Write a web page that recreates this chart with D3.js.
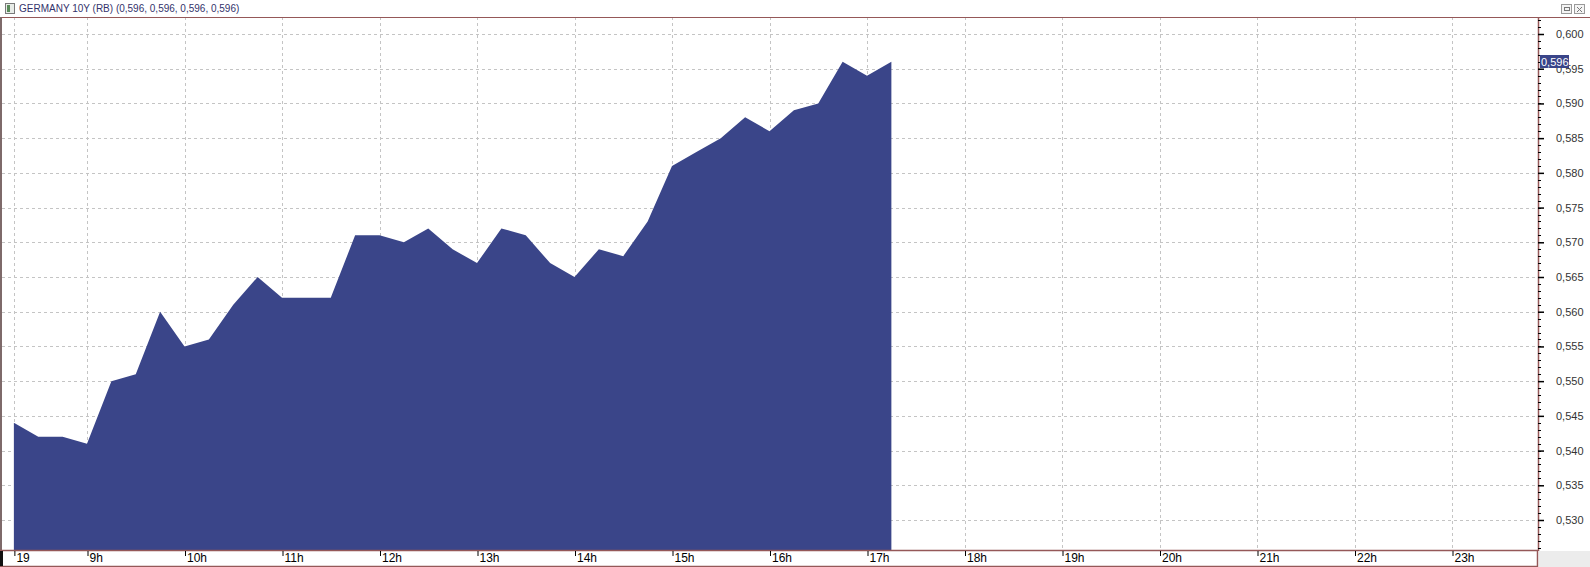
<!DOCTYPE html>
<html>
<head>
<meta charset="utf-8">
<script src="https://cdn.jsdelivr.net/npm/d3@7"></script>
<style>
  body { margin: 0; background: #fff; overflow: hidden; }
  svg { display: block; font-family: "Liberation Sans", Arial, sans-serif; }
</style>
</head>
<body>
<div id="chart"></div>
<script>
// quarter-hour closes, 19th
var times = ["08:15", "08:30", "08:45", "09:00", "09:15", "09:30", "09:45", "10:00", "10:15",
    "10:30", "10:45", "11:00", "11:15", "11:30", "11:45", "12:00", "12:15", "12:30", "12:45",
    "13:00", "13:15", "13:30", "13:45", "14:00", "14:15", "14:30", "14:45", "15:00", "15:15",
    "15:30", "15:45", "16:00", "16:15", "16:30", "16:45", "17:00", "17:15"];
var yields = [0.544, 0.542, 0.542, 0.541, 0.550, 0.551, 0.560, 0.555, 0.556,
    0.561, 0.565, 0.562, 0.562, 0.562, 0.571, 0.571, 0.570, 0.572, 0.569,
    0.567, 0.572, 0.571, 0.567, 0.565, 0.569, 0.568, 0.573, 0.581, 0.583,
    0.585, 0.588, 0.586, 0.589, 0.590, 0.596, 0.594, 0.596];
var hourTicks = [9, 10, 11, 12, 13, 14, 15, 16, 17, 18, 19, 20, 21, 22, 23];
var dateTick = "08:15";
var dateLabel = "19";
var yTicks = [0.530, 0.535, 0.540, 0.545, 0.550, 0.555, 0.560, 0.565, 0.570, 0.575, 0.580, 0.585, 0.590, 0.595, 0.600];
var lastValue = 0.596;
var title = "GERMANY 10Y (RB) (0,596, 0,596, 0,596, 0,596)";

(function () {
    var W = 1590, H = 567;
    var plot = { left: 2, right: 1538, top: 17, bottom: 550 };
    var axisBottom = 566;
    var navy = "#3a4589", frame = "#955858", grid = "#c4c4c4";

    function hours(t) {
        var p = t.split(":");
        return +p[0] + p[1] / 60;
    }
    function comma(v) { return d3.format(".3f")(v).replace(".", ","); }

    var x = d3.scaleLinear().domain([9, 23]).range([87, 1452]);
    var y = d3.scaleLinear().domain([0.530, 0.600]).range([520, 34]);

    var svg = d3.select("#chart").append("svg")
        .attr("width", W)
        .attr("height", H);

    // title bar
    svg.append("rect").attr("width", W).attr("height", plot.top).attr("fill", "#fff");
    svg.append("rect").attr("x", 5.5).attr("y", 3.5).attr("width", 9).attr("height", 10)
        .attr("fill", "#e8ece8").attr("stroke", "#7a7a7a");
    svg.append("rect").attr("x", 7).attr("y", 5).attr("width", 3).attr("height", 7).attr("fill", "#5a8a5a");
    svg.append("text").attr("x", 19).attr("y", 12)
        .attr("font-size", 10).attr("fill", "#33336b").text(title);
    [1561, 1574].forEach(function (bx, i) {
        svg.append("rect").attr("x", bx + 0.5).attr("y", 4.5).attr("width", 10).attr("height", 9)
            .attr("fill", "#f4f4f4").attr("stroke", "#9a9a9a");
        if (i === 0) {
            svg.append("rect").attr("x", bx + 3.5).attr("y", 7.5).attr("width", 5).attr("height", 3)
                .attr("fill", "none").attr("stroke", "#777");
        } else {
            svg.append("path").attr("d", "M" + (bx + 3) + ",7L" + (bx + 8) + ",12M" + (bx + 8) + ",7L" + (bx + 3) + ",12")
                .attr("stroke", "#777");
        }
    });

    // grid
    svg.append("g").selectAll("line").data(yTicks).enter().append("line")
        .attr("x1", plot.left).attr("x2", plot.right)
        .attr("y1", function (d) { return Math.round(y(d)) + 0.5; })
        .attr("y2", function (d) { return Math.round(y(d)) + 0.5; })
        .attr("stroke", grid).attr("stroke-dasharray", "3,3");
    var vlines = [hours(dateTick)].concat(hourTicks);
    svg.append("g").selectAll("line").data(vlines).enter().append("line")
        .attr("x1", function (d) { return Math.round(x(d)) + 0.5; })
        .attr("x2", function (d) { return Math.round(x(d)) + 0.5; })
        .attr("y1", plot.top).attr("y2", plot.bottom)
        .attr("stroke", grid).attr("stroke-dasharray", "3,3");

    // area
    var area = d3.area()
        .x(function (d, i) { return x(hours(times[i])); })
        .y0(plot.bottom)
        .y1(function (d) { return y(d); });
    svg.append("path").datum(yields).attr("d", area).attr("fill", navy);

    // frame
    svg.append("line").attr("x1", 0).attr("x2", W).attr("y1", plot.top + 0.5).attr("y2", plot.top + 0.5)
        .attr("stroke", frame);
    svg.append("rect").attr("x", 0).attr("y", plot.top).attr("width", 2).attr("height", plot.bottom - plot.top)
        .attr("fill", "#7e6a6a");
    svg.append("line").attr("x1", plot.right + 0.5).attr("x2", plot.right + 0.5)
        .attr("y1", plot.top).attr("y2", plot.bottom + 1).attr("stroke", frame).attr("stroke-width", 1.5);

    // right axis
    var minor = d3.range(526, 603).map(function (d) { return d / 1000; });
    var yAxis = d3.axisRight(y)
        .tickValues(yTicks)
        .tickSize(6)
        .tickPadding(12)
        .tickFormat(comma);
    var ya = svg.append("g")
        .attr("transform", "translate(" + plot.right + ",0)")
        .call(yAxis);
    ya.select(".domain").remove();
    ya.selectAll(".tick line").attr("stroke", "#000").attr("stroke-width", 1.5);
    ya.selectAll(".tick text").attr("font-size", 11).attr("fill", "#333")
        .attr("font-family", "Liberation Sans, Arial, sans-serif");
    ya.selectAll(".minor").data(minor).enter().append("line")
        .attr("class", "minor")
        .attr("x1", 0).attr("x2", 3)
        .attr("y1", function (d) { return Math.round(y(d)) + 0.5; })
        .attr("y2", function (d) { return Math.round(y(d)) + 0.5; })
        .attr("stroke", "#000");

    // last value marker (sits over the 0,595 label, as in the original)
    svg.append("rect").attr("x", plot.right + 2).attr("y", Math.round(y(lastValue)) - 7)
        .attr("width", 29).attr("height", 13).attr("fill", navy);
    svg.append("text").attr("x", plot.right + 3).attr("y", Math.round(y(lastValue)) + 4)
        .attr("font-size", 11).attr("fill", "#fff").text(comma(lastValue));

    // bottom axis
    svg.append("rect").attr("x", plot.right + 1).attr("y", plot.bottom + 1)
        .attr("width", W - plot.right).attr("height", H - plot.bottom).attr("fill", "#ececec");
    svg.append("line").attr("x1", 0).attr("x2", plot.right).attr("y1", plot.bottom + 0.5).attr("y2", plot.bottom + 0.5)
        .attr("stroke", frame).attr("stroke-width", 1.5);
    svg.append("line").attr("x1", 0).attr("x2", plot.right).attr("y1", axisBottom + 0.5).attr("y2", axisBottom + 0.5)
        .attr("stroke", frame).attr("stroke-width", 1.5);
    svg.append("line").attr("x1", plot.right - 0.5).attr("x2", plot.right - 0.5).attr("y1", plot.bottom).attr("y2", axisBottom + 1)
        .attr("stroke", frame).attr("stroke-width", 1.5);
    svg.append("rect").attr("x", 0).attr("y", plot.bottom + 1).attr("width", 3).attr("height", axisBottom - plot.bottom - 1)
        .attr("fill", "#111");

    var xAxis = d3.axisBottom(x)
        .tickValues([hours(dateTick)].concat(hourTicks))
        .tickSize(5)
        .tickFormat(function (d) { return d === hours(dateTick) ? dateLabel : d + "h"; });
    var xa = svg.append("g")
        .attr("transform", "translate(0," + (plot.bottom + 1) + ")")
        .call(xAxis);
    xa.select(".domain").remove();
    xa.selectAll(".tick line").attr("stroke", "#000")
        .attr("transform", "translate(0.5,0)");
    xa.selectAll(".tick text")
        .attr("text-anchor", "start")
        .attr("x", 2).attr("y", 2).attr("dy", "0.71em")
        .attr("font-size", 12).attr("fill", "#000")
        .attr("font-family", "Liberation Sans, Arial, sans-serif");
})();
</script>
</body>
</html>
